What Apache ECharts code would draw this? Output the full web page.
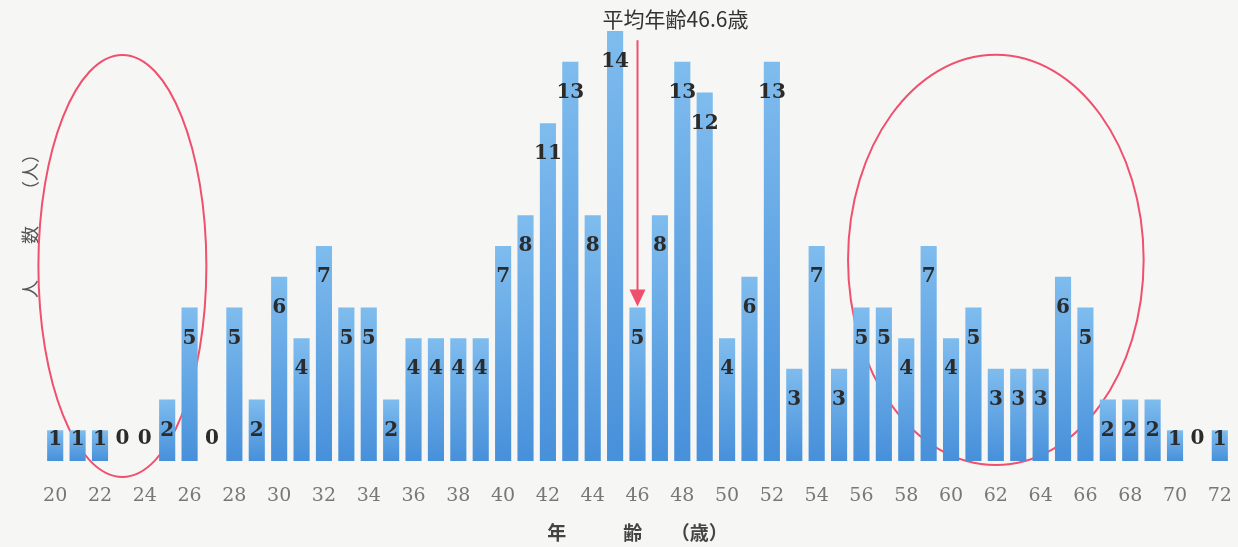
<!DOCTYPE html>
<html>
<head>
<meta charset="utf-8">
<script src="https://cdn.jsdelivr.net/npm/echarts@6/dist/echarts.min.js"></script>
<style>
  html, body { margin: 0; padding: 0; background: #f6f6f4; }
  #container { width: 1238px; height: 547px; }
</style>
</head>
<body>
<div id="container"></div>
<script>
// Ages and head counts
const ages = [];
for (let a = 20; a <= 72; a++) ages.push(String(a));
const counts = [
  1, 1, 1, 0, 0, 2, 5, 0, 5, 2,
  6, 4, 7, 5, 5, 2, 4, 4, 4, 4,
  7, 8, 11, 13, 8, 14, 5, 8, 13, 12,
  4, 6, 13, 3, 7, 3, 5, 5, 4, 7,
  4, 5, 3, 3, 3, 6, 5, 2, 2, 2,
  1, 0, 1
];
const meanLabel = '平均年齢46.6歳';
const yName = '人　　数　　（人）';

const container = document.getElementById('container');
const chart = echarts.init(container);

const serif = '"DejaVu Serif", "Liberation Serif", serif';
const cjk = '"Noto Sans CJK JP", sans-serif';

// label sits about one unit below the bar top; small bars get it near the top
function labelFor(v) {
  if (v === 0) return { position: 'top', distance: 12 };
  if (v === 1) return { position: 'insideTop', distance: 0 };
  return { position: 'insideTop', distance: 21 };
}

const option = {
  backgroundColor: '#f6f6f4',
  animation: false,
  grid: { left: 44, right: 7, top: 31, bottom: 82 },
  xAxis: {
    type: 'category',
    data: ages,
    axisLine: { show: false },
    axisTick: { show: false },
    axisLabel: {
      interval: 1,
      margin: 26,
      color: '#777',
      fontFamily: serif,
      fontSize: 19
    },
    name: '年　　　齢　　（歳）',
    nameLocation: 'middle',
    nameGap: 62,
    nameTextStyle: { fontFamily: cjk, fontSize: 19, fontWeight: 'bold', color: '#444' }
  },
  yAxis: {
    type: 'value',
    min: 0,
    max: 14,
    splitLine: { show: false },
    axisLine: { show: false },
    axisTick: { show: false },
    axisLabel: { show: false }
  },
  series: [{
    type: 'bar',
    barCategoryGap: '28%',
    data: counts.map(v => ({ value: v, label: labelFor(v) })),
    itemStyle: {
      color: new echarts.graphic.LinearGradient(0, 0, 0, 1, [
        { offset: 0, color: '#7fbcee' },
        { offset: 1, color: '#4790da' }
      ])
    },
    label: {
      show: true,
      color: '#2b2b2b',
      fontFamily: serif,
      fontWeight: 'bold',
      fontSize: 20,
      lineHeight: 20
    }
  }]
};

chart.setOption(option);

// annotations: mean arrow and the two ellipses, placed in data space
const px = (x, y) => chart.convertToPixel({ seriesIndex: 0 }, [x, y]);
const unitX = px(1, 0)[0] - px(0, 0)[0];
const unitY = px(0, 0)[1] - px(0, 1)[1];

const arrowTop = px(26.25, 13.7);
const arrowEnd = px(26.25, 5);
const ellL = px(2.95, 6.35);
const ellR = px(42.46, 6.55);

chart.setOption({
  graphic: [
    {
      type: 'line',
      shape: { x1: arrowTop[0], y1: arrowTop[1], x2: arrowEnd[0], y2: arrowEnd[1] - 14 },
      style: { stroke: '#f0506e', lineWidth: 2 }
    },
    {
      type: 'polygon',
      shape: { points: [[arrowEnd[0] - 8, arrowEnd[1] - 18], [arrowEnd[0] + 8, arrowEnd[1] - 18], [arrowEnd[0], arrowEnd[1] - 1]] },
      style: { fill: '#f0506e' }
    },
    {
      type: 'text',
      x: arrowTop[0] + 38,
      y: arrowTop[1] - 21,
      style: {
        text: meanLabel,
        align: 'center',
        verticalAlign: 'middle',
        font: '21px "Noto Sans CJK JP", sans-serif',
        fill: '#333'
      }
    },
    {
      type: 'text',
      x: 30,
      y: px(0, 7.8)[1],
      rotation: Math.PI / 2,
      style: {
        text: yName,
        align: 'center',
        verticalAlign: 'middle',
        font: '18px "Noto Sans CJK JP", sans-serif',
        fill: '#555'
      }
    },
    {
      type: 'ellipse',
      shape: { cx: ellL[0], cy: ellL[1], rx: 3.75 * unitX, ry: 6.87 * unitY },
      style: { fill: 'none', stroke: '#f0506e', lineWidth: 2 }
    },
    {
      type: 'ellipse',
      shape: { cx: ellR[0], cy: ellR[1], rx: 6.6 * unitX, ry: 6.68 * unitY },
      style: { fill: 'none', stroke: '#f0506e', lineWidth: 2 }
    }
  ]
});
</script>
</body>
</html>
